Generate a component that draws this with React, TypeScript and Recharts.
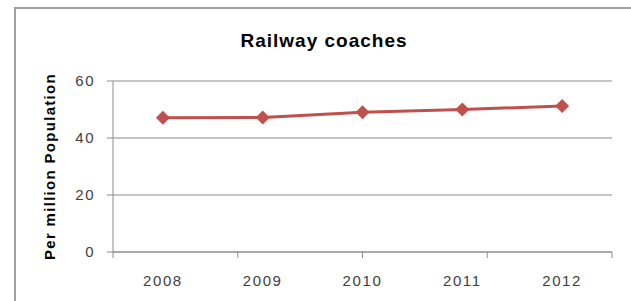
import React from 'react';
import { LineChart, Line, XAxis, YAxis, CartesianGrid } from 'recharts';

const years = ['2008', '2009', '2010', '2011', '2012'];
const coaches = [47.1, 47.2, 49.0, 50.0, 51.2];
const yTicks = [0, 20, 40, 60];
const boundaryTicks = [0, 1, 2, 3, 4, 5];

const data = years.map((year, i) => ({ year, value: coaches[i] }));

const axisGray = '#8c8c8c';
const lineRed = '#C0504D';

const Diamond = (props: any) => {
  const { cx, cy, index } = props;
  if (cx == null || cy == null) return <g key={`d-${index}`} />;
  const r = 7;
  return (
    <path
      key={`d-${index}`}
      d={`M${cx},${cy - r} L${cx + r},${cy} L${cx},${cy + r} L${cx - r},${cy} Z`}
      fill={lineRed}
    />
  );
};

const EmptyTick = () => <text />;

const App: React.FC = () => {
  return (
    <div
      style={{
        position: 'fixed',
        left: 0,
        top: 0,
        width: 631,
        height: 301,
        overflow: 'hidden',
        background: '#fff',
        fontFamily: '"Liberation Sans", Arial, sans-serif',
      }}
    >
      <div
        style={{
          position: 'absolute',
          left: 14,
          top: 7,
          width: 700,
          height: 400,
          borderLeft: '2px solid #a0a0a0',
          borderTop: '2px solid #a0a0a0',
        }}
      />
      <div
        style={{
          position: 'absolute',
          left: 0,
          top: 31,
          width: 648,
          textAlign: 'center',
          fontSize: 19,
          lineHeight: '19px',
          fontWeight: 'bold',
          letterSpacing: 1,
          color: '#000',
        }}
      >
        Railway coaches
      </div>
      <div style={{ position: 'absolute', left: 0, top: 0 }}>
        <LineChart
          width={631}
          height={301}
          data={data}
          margin={{ top: 81, right: 19, left: 0, bottom: 0 }}
        >
          <CartesianGrid
            vertical={false}
            stroke={axisGray}
            xAxisId="cat"
          />
          <XAxis
            xAxisId="bounds"
            type="number"
            domain={[0, 5]}
            ticks={boundaryTicks}
            interval={0}
            allowDataOverflow
            height={8}
            stroke={axisGray}
            tickSize={6}
            tick={EmptyTick}
          />
          <XAxis
            xAxisId="cat"
            dataKey="year"
            scale="band"
            height={41}
            axisLine={false}
            tickLine={false}
            tickSize={0}
            tickMargin={15}
            tick={{ fill: '#404040', fontSize: 15, letterSpacing: 1.6 }}
          />
          <YAxis
            domain={[0, 60]}
            ticks={yTicks}
            width={113}
            stroke={axisGray}
            tickSize={6}
            tickMargin={12}
            tick={{ fill: '#404040', fontSize: 15, letterSpacing: 1.5 }}
            label={{
              value: 'Per million Population',
              angle: -90,
              position: 'insideLeft',
              offset: 50,
              style: {
                textAnchor: 'middle',
                fontWeight: 'bold',
                fontSize: 15,
                letterSpacing: 1.3,
                fill: '#000',
              },
            }}
          />
          <Line
            xAxisId="cat"
            type="linear"
            dataKey="value"
            stroke={lineRed}
            strokeWidth={3}
            dot={Diamond}
            activeDot={false}
            isAnimationActive={false}
          />
        </LineChart>
      </div>
    </div>
  );
};

export default App;
